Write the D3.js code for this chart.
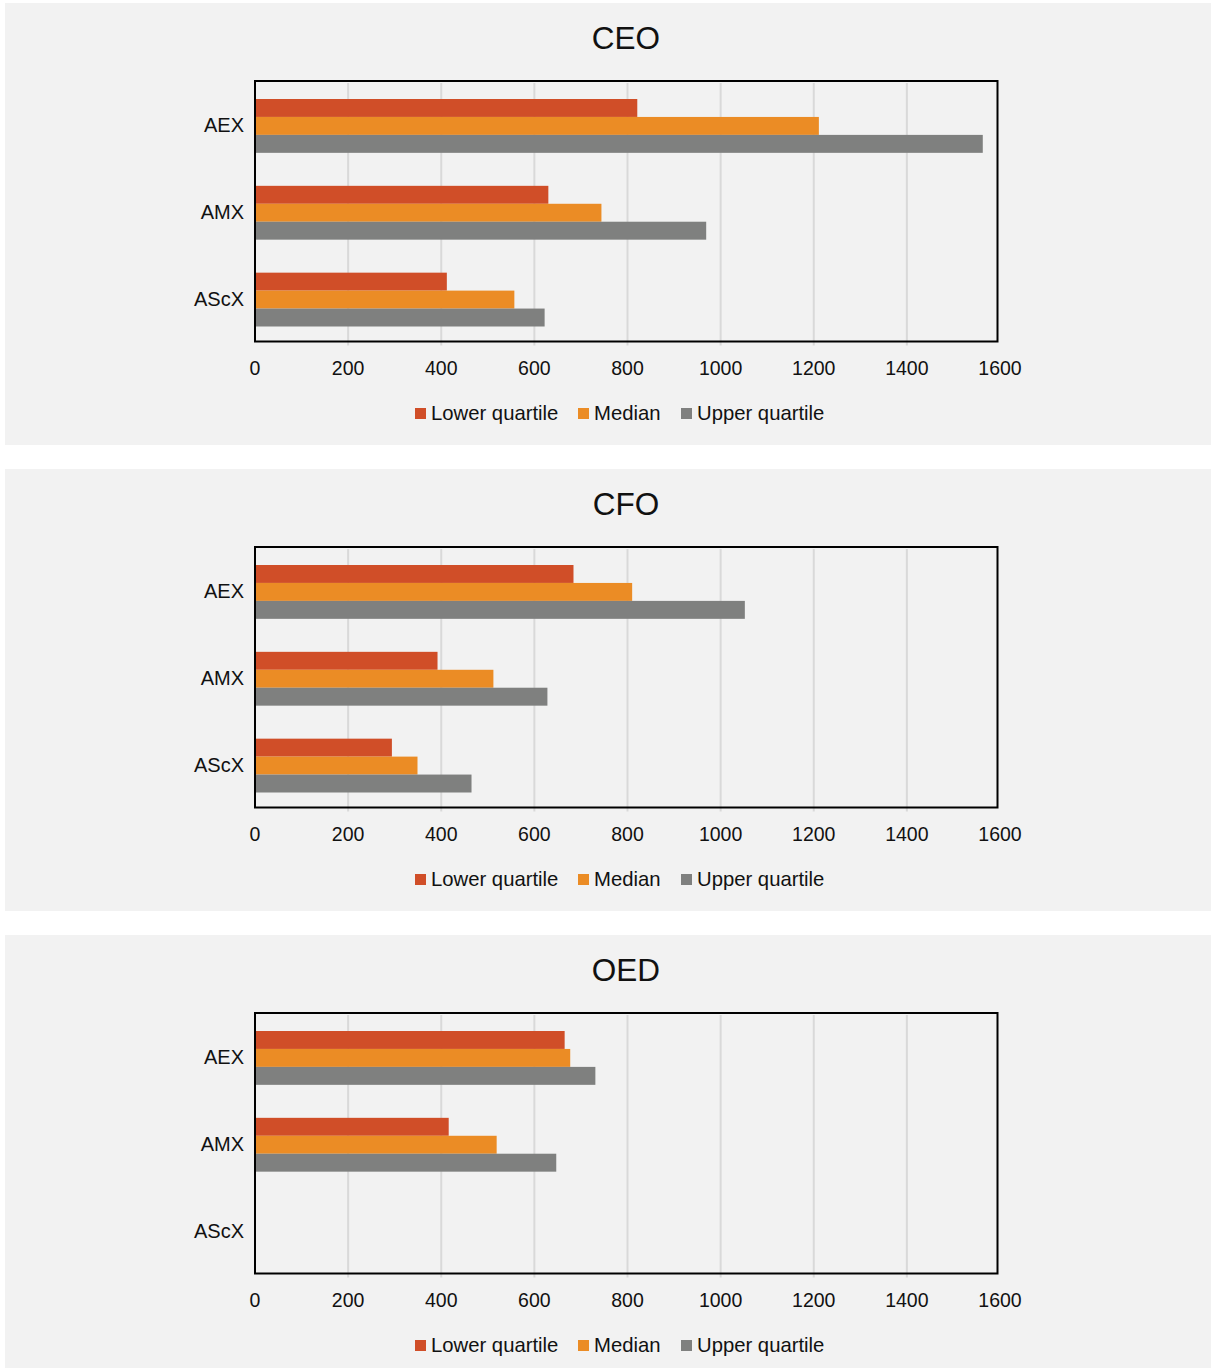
<!DOCTYPE html>
<html>
<head>
<meta charset="utf-8">
<script src="https://cdn.jsdelivr.net/npm/d3@7"></script>
<style>
  body { margin: 0; background: #fff; }
  svg { display: block; font-family: "Liberation Sans", Arial, sans-serif; }
</style>
</head>
<body>
<div id="chart"></div>
<script>
// data
var panels = ["CEO", "CFO", "OED"];
var indices = ["AEX", "AMX", "AScX"];
var seriesNames = ["Lower quartile", "Median", "Upper quartile"];
var seriesColors = ["#d04e28", "#eb8c25", "#7f807f"];
var xTicks = [0, 200, 400, 600, 800, 1000, 1200, 1400, 1600];

// values per panel: [lower, median, upper] for AEX, AMX, AScX
var ceoValues = [[821, 1211, 1563], [630, 744, 969], [412, 557, 622]];
var cfoValues = [[684, 810, 1052], [392, 512, 628], [294, 349, 465]];
var oedValues = [[665, 677, 731], [416, 519, 647], [null, null, null]];
var panelValues = [ceoValues, cfoValues, oedValues];

var width = 1211, height = 1368;
var panelTop = [3, 469, 935], panelH = 442;

var svg = d3.select("#chart").append("svg")
    .attr("width", width)
    .attr("height", height);

var x = d3.scaleLinear().domain([0, 1600]).range([255, 1000]);

panels.forEach(function (name, p) {
    var g = svg.append("g").attr("transform", "translate(0," + panelTop[p] + ")");
    var values = panelValues[p];

    g.append("rect")
        .attr("x", 5).attr("y", 0)
        .attr("width", 1206).attr("height", panelH)
        .attr("fill", "#f2f2f2");

    // title
    g.append("text")
        .attr("x", 626).attr("y", 46)
        .attr("text-anchor", "middle")
        .attr("font-size", 31.5)
        .attr("fill", "#111")
        .text(name);

    var top = 78, bottom = 338.5;
    var y = d3.scaleBand().domain(indices).range([top, bottom]).paddingInner(0.38).paddingOuter(0.19);
    var ySub = d3.scaleBand().domain(seriesNames).range([0, y.bandwidth()]);

    // gridlines
    g.selectAll(".grid").data(xTicks.slice(1, -1)).enter()
        .append("line")
        .attr("x1", function (d) { return x(d); })
        .attr("x2", function (d) { return x(d); })
        .attr("y1", top + 2).attr("y2", bottom + 4)
        .attr("stroke", "#d9d9d9")
        .attr("stroke-width", 2);

    // bars
    indices.forEach(function (idx, i) {
        seriesNames.forEach(function (s, k) {
            var v = values[i][k];
            if (v == null) return;
            g.append("rect")
                .attr("x", x(0))
                .attr("y", y(idx) + 1.5 + ySub(s))
                .attr("width", x(v) - x(0))
                .attr("height", ySub.bandwidth())
                .attr("fill", seriesColors[k]);
        });
    });

    // frame
    g.append("rect")
        .attr("x", 255).attr("y", top)
        .attr("width", 742.5).attr("height", bottom - top)
        .attr("fill", "none")
        .attr("stroke", "#000")
        .attr("stroke-width", 2);

    // category labels
    g.selectAll(".cat").data(indices).enter()
        .append("text")
        .attr("x", 244)
        .attr("y", function (d) { return y(d) + y.bandwidth() / 2 + 8; })
        .attr("text-anchor", "end")
        .attr("font-size", 20)
        .attr("fill", "#111")
        .text(function (d) { return d; });

    // x tick labels
    g.selectAll(".tick").data(xTicks).enter()
        .append("text")
        .attr("x", function (d) { return x(d); })
        .attr("y", 372)
        .attr("text-anchor", "middle")
        .attr("font-size", 19.5)
        .attr("fill", "#111")
        .text(function (d) { return d; });

    // legend
    var legendX = [415, 578, 681];
    var lg = g.selectAll(".leg").data(seriesNames).enter()
        .append("g")
        .attr("transform", function (d, k) { return "translate(" + legendX[k] + ",405)"; });
    lg.append("rect")
        .attr("width", 11).attr("height", 11)
        .attr("y", 0)
        .attr("fill", function (d, k) { return seriesColors[k]; });
    lg.append("text")
        .attr("x", 16).attr("y", 11.5)
        .attr("font-size", 20.3)
        .attr("fill", "#111")
        .text(function (d) { return d; });
});
</script>
</body>
</html>
